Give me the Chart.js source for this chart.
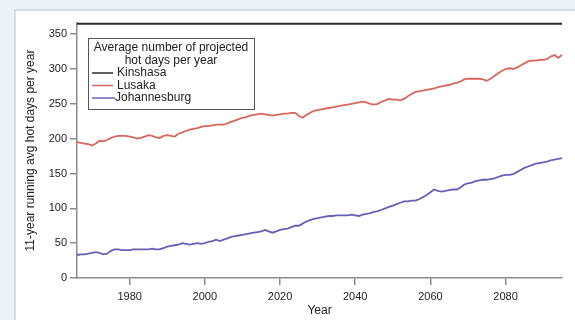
<!DOCTYPE html>
<html>
<head>
<meta charset="utf-8">
<script src="https://cdn.jsdelivr.net/npm/chart.js@4"></script>
<style>
  html, body { margin: 0; padding: 0; background: #eaf2f6; }
  #wrap { position: relative; width: 575px; height: 320px; overflow: hidden; }
  #panel {
    position: absolute; left: 14px; top: 9px; width: 600px; height: 340px;
    background: #fff; border: 2px solid #cfe0ec;
  }
  #chart { position: absolute; left: 0; top: 0; }
</style>
</head>
<body>
<div id="wrap">
  <div id="panel"></div>
  <canvas id="chart" width="575" height="320"></canvas>
</div>
<script>
// ---- data ----
const START_YEAR = 1966;
const END_YEAR = 2095;

const kinshasa = [
  365, 365, 365, 365, 365, 365, 365, 365, 365, 365,
  365, 365, 365, 365, 365, 365, 365, 365, 365, 365,
  365, 365, 365, 365, 365, 365, 365, 365, 365, 365,
  365, 365, 365, 365, 365, 365, 365, 365, 365, 365,
  365, 365, 365, 365, 365, 365, 365, 365, 365, 365,
  365, 365, 365, 365, 365, 365, 365, 365, 365, 365,
  365, 365, 365, 365, 365, 365, 365, 365, 365, 365,
  365, 365, 365, 365, 365, 365, 365, 365, 365, 365,
  365, 365, 365, 365, 365, 365, 365, 365, 365, 365,
  365, 365, 365, 365, 365, 365, 365, 365, 365, 365,
  365, 365, 365, 365, 365, 365, 365, 365, 365, 365,
  365, 365, 365, 365, 365, 365, 365, 365, 365, 365,
  365, 365, 365, 365, 365, 365, 365, 365, 365, 365
];

const lusaka = [
  195, 194, 193, 192, 190, 193, 197, 196, 198, 201,
  203, 204, 204, 204, 203, 202, 200, 201, 203, 205,
  204, 202, 201, 204, 205, 204, 203, 207, 209, 211,
  213, 214, 215, 217, 218, 218, 219, 220, 220, 220,
  222, 224, 226, 228, 230, 231, 233, 234, 235, 236,
  235, 234, 233, 234, 235, 236, 236, 237, 237, 233,
  230, 234, 237, 240, 241, 242, 243, 244, 245, 246,
  247, 248, 249, 250, 251, 252, 253, 252, 250, 249,
  250, 253, 255, 257, 256, 256, 255, 257, 261, 264,
  267, 268, 269, 270, 271, 272, 274, 275, 276, 277,
  279, 280, 282, 285, 286, 286, 286, 286, 285, 283,
  286, 290, 294, 297, 300, 301, 300, 302, 305, 308,
  311, 312, 312, 313, 313, 314, 318, 320, 316, 320
];

const johannesburg = [
  33, 34, 34, 35, 36, 37, 36, 34, 35, 39,
  41, 41, 40, 40, 40, 41, 41, 41, 41, 41,
  42, 41, 41, 43, 45, 46, 47, 48, 50, 49,
  48, 49, 50, 49, 50, 52, 53, 55, 53, 55,
  57, 59, 60, 61, 62, 63, 64, 65, 66, 67,
  69, 67, 65, 67, 69, 70, 71, 73, 75, 75,
  78, 81, 83, 85, 86, 87, 88, 89, 89, 90,
  90, 90, 90, 91, 90, 89, 91, 92, 93, 95,
  96, 98, 100, 102, 104, 106, 108, 110, 110, 111,
  111, 113, 116, 119, 123, 127, 125, 124, 125, 126,
  127, 127, 130, 134, 136, 137, 139, 140, 141, 141,
  142, 143, 145, 147, 148, 148, 149, 152, 155, 158,
  160, 162, 164, 165, 166, 167, 169, 170, 171, 172
];

const xTicks = [1980, 2000, 2020, 2040, 2060, 2080];
const yTicks = [0, 50, 100, 150, 200, 250, 300, 350];
const legendTitle = ["Average number of projected", "hot days per year"];

const FONT = "'Liberation Sans', Arial, sans-serif";
const AXIS_GREY = "#8c8c8c";
const TEXT = "#222222";

const years = [];
for (let y = START_YEAR; y <= END_YEAR; y++) years.push(y);
const pts = (vals) => vals.map((v, i) => ({ x: years[i], y: v }));

// legend box drawn inside the plot, like the original
const boxedLegend = {
  id: "boxedLegend",
  afterDraw(chart) {
    const ctx = chart.ctx;
    const x0 = 88, y0 = 38, w = 166, h = 71;
    ctx.save();
    ctx.fillStyle = "#fff";
    ctx.fillRect(x0, y0, w, h);
    ctx.strokeStyle = "#555";
    ctx.lineWidth = 1;
    ctx.strokeRect(x0 + 0.5, y0 + 0.5, w, h);
    ctx.font = "12px " + FONT;
    ctx.fillStyle = TEXT;
    ctx.textBaseline = "middle";
    ctx.textAlign = "center";
    legendTitle.forEach((t, i) => ctx.fillText(t, x0 + w / 2, y0 + 10 + i * 12.5));
    ctx.textAlign = "left";
    chart.data.datasets.forEach((ds, i) => {
      const yy = y0 + 35 + i * 12.5;
      const longName = ds.label === "Johannesburg";
      ctx.strokeStyle = ds.borderColor;
      ctx.lineWidth = 1.5;
      ctx.beginPath();
      ctx.moveTo(x0 + 4, yy);
      ctx.lineTo(x0 + (longName ? 27 : 25), yy);
      ctx.stroke();
      ctx.fillText(ds.label, x0 + (longName ? 27 : 29), yy);
    });
    ctx.restore();
  }
};

new Chart(document.getElementById("chart"), {
  type: "line",
  data: {
    datasets: [
      { label: "Kinshasa", data: pts(kinshasa), borderColor: "#2b2b2b", borderWidth: 2 },
      { label: "Lusaka", data: pts(lusaka), borderColor: "#d9665c", borderWidth: 1.8 },
      { label: "Johannesburg", data: pts(johannesburg), borderColor: "#6760b6", borderWidth: 1.8 }
    ]
  },
  options: {
    responsive: false,
    animation: false,
    clip: false,
    elements: { point: { radius: 0 }, line: { tension: 0 } },
    layout: { padding: { left: 0, top: 23, right: 13, bottom: 0 } },
    plugins: { legend: { display: false }, tooltip: { enabled: false } },
    scales: {
      x: {
        type: "linear",
        min: START_YEAR,
        max: END_YEAR,
        afterBuildTicks: (s) => { s.ticks = xTicks.map((v) => ({ value: v })); },
        afterFit: (s) => { s.height = 42; },
        ticks: { color: TEXT, font: { family: FONT, size: 11 }, padding: 5, maxRotation: 0, callback: (v) => String(v) },
        grid: { drawOnChartArea: false, drawTicks: true, tickLength: 7, color: AXIS_GREY, lineWidth: 1.5 },
        border: { display: true, color: AXIS_GREY, width: 1.5 },
        title: { display: true, text: "Year", color: TEXT, font: { family: FONT, size: 12 }, padding: { top: 0, bottom: 2 } }
      },
      y: {
        min: 0,
        max: 366,
        afterBuildTicks: (s) => { s.ticks = yTicks.map((v) => ({ value: v })); },
        afterFit: (s) => { s.width = 77; },
        ticks: { color: TEXT, font: { family: FONT, size: 11 }, padding: 3 },
        grid: { drawOnChartArea: false, drawTicks: true, tickLength: 7, color: AXIS_GREY, lineWidth: 1.5 },
        border: { display: true, color: AXIS_GREY, width: 1.5 },
        title: { display: true, text: "11-year running avg hot days per year", color: TEXT, font: { family: FONT, size: 12 }, padding: { top: 23, bottom: 0 } }
      }
    }
  },
  plugins: [boxedLegend]
});
</script>
</body>
</html>
